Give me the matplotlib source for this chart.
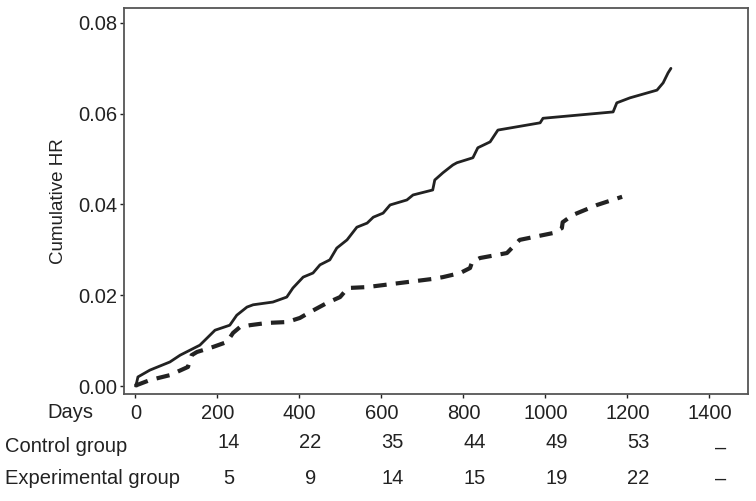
import matplotlib
matplotlib.use("Agg")
import matplotlib.pyplot as plt
import matplotlib.transforms as mtransforms

plt.rcParams["font.family"] = ["Liberation Sans", "DejaVu Sans"]

# cumulative hazard, control group (solid)
control_days = [0, 3, 6, 35, 84, 109, 133, 157, 194, 230, 247, 272, 287, 335,
                369, 384, 409, 433, 450, 474, 491, 516, 540, 565, 580, 604,
                621, 662, 677, 725, 730, 750, 774, 784, 823, 835, 865, 884,
                987, 994, 1165, 1174, 1206, 1272, 1287, 1299, 1306]
control_hr = [0.0, 0.0008, 0.002, 0.0035, 0.0053, 0.0068, 0.0079, 0.009,
              0.0123, 0.0134, 0.0156, 0.0174, 0.0179, 0.0185, 0.0196, 0.0216,
              0.024, 0.0249, 0.0267, 0.0278, 0.0304, 0.0322, 0.035, 0.0359,
              0.0372, 0.0381, 0.0399, 0.041, 0.0421, 0.0432, 0.0454, 0.047,
              0.0487, 0.0492, 0.0503, 0.0525, 0.0538, 0.0564, 0.058, 0.059,
              0.0604, 0.0624, 0.0635, 0.0652, 0.0668, 0.069, 0.070]

# cumulative hazard, experimental group (dashed)
exp_days = [0, 3, 35, 84, 128, 137, 150, 189, 223, 238, 255, 279, 321, 370,
            401, 426, 467, 499, 518, 565, 645, 725, 750, 792, 816, 821, 840,
            906, 920, 937, 1018, 1040, 1042, 1067, 1126, 1187]
exp_hr = [0.0, 0.0002, 0.0013, 0.0024, 0.0042, 0.0068, 0.0075, 0.0086, 0.0097,
          0.0117, 0.013, 0.0134, 0.0139, 0.0141, 0.015, 0.0163, 0.0183, 0.0196,
          0.0216, 0.0218, 0.0227, 0.0236, 0.024, 0.0249, 0.026, 0.0273, 0.0282,
          0.0293, 0.0306, 0.0322, 0.0337, 0.0348, 0.0361, 0.0377, 0.0399,
          0.0417]

x_ticks = [0, 200, 400, 600, 800, 1000, 1200, 1400]
y_ticks = [0.00, 0.02, 0.04, 0.06, 0.08]
table_days = [200, 400, 600, 800, 1000, 1200, 1400]
control_counts = ["14", "22", "35", "44", "49", "53", "\u2013"]
exp_counts = ["5", "9", "14", "15", "19", "22", "\u2013"]

ink = "#222222"

fig = plt.figure(figsize=(7.56, 5.01), dpi=100)
ax = fig.add_axes([124 / 756, 1 - 394 / 501, 624 / 756, 386 / 501])

ax.plot(control_days, control_hr, color=ink, lw=2.0, solid_capstyle="round")
ax.plot(exp_days, exp_hr, color=ink, lw=3.0, linestyle=(0, (3.2, 2.2)))

ax.set_xlim(-28, 1494)
ax.set_ylim(-0.00176, 0.0833)
ax.set_xticks(x_ticks)
ax.set_yticks(y_ticks)
ax.set_yticklabels([f"{v:.2f}" for v in y_ticks])
ax.tick_params(axis="both", labelsize=14.5, colors=ink, length=3, width=1)
ax.tick_params(axis="x", pad=4)
ax.tick_params(axis="y", pad=2)
for s in ax.spines.values():
    s.set_color("#555555")
    s.set_linewidth(1.3)

ax.set_ylabel("Cumulative HR", fontsize=13.5, color=ink, labelpad=8)

# number-of-events table below the axis
fig.text(70 / 756, 1 - 412 / 501, "Days", fontsize=14.5, color=ink,
         ha="center", va="center")
fig.text(5 / 756, 1 - 447 / 501, "Control group", fontsize=14.5, color=ink,
         ha="left", va="center")
fig.text(5 / 756, 1 - 478 / 501, "Experimental group", fontsize=14.5,
         color=ink, ha="left", va="center")

trans = mtransforms.blended_transform_factory(ax.transData, fig.transFigure)
for d, c, e in zip(table_days, control_counts, exp_counts):
    # the dash in the control row sits a little lower than the numbers
    cy = 448 if c == "\u2013" else 442
    ax.text(d + 27, 1 - cy / 501, c, transform=trans, fontsize=14.5,
            color=ink, ha="center", va="center")
    ax.text(d + 27, 1 - 479 / 501, e, transform=trans, fontsize=14.5,
            color=ink, ha="center", va="center")

fig.savefig("out.png", dpi=100, facecolor="white")
